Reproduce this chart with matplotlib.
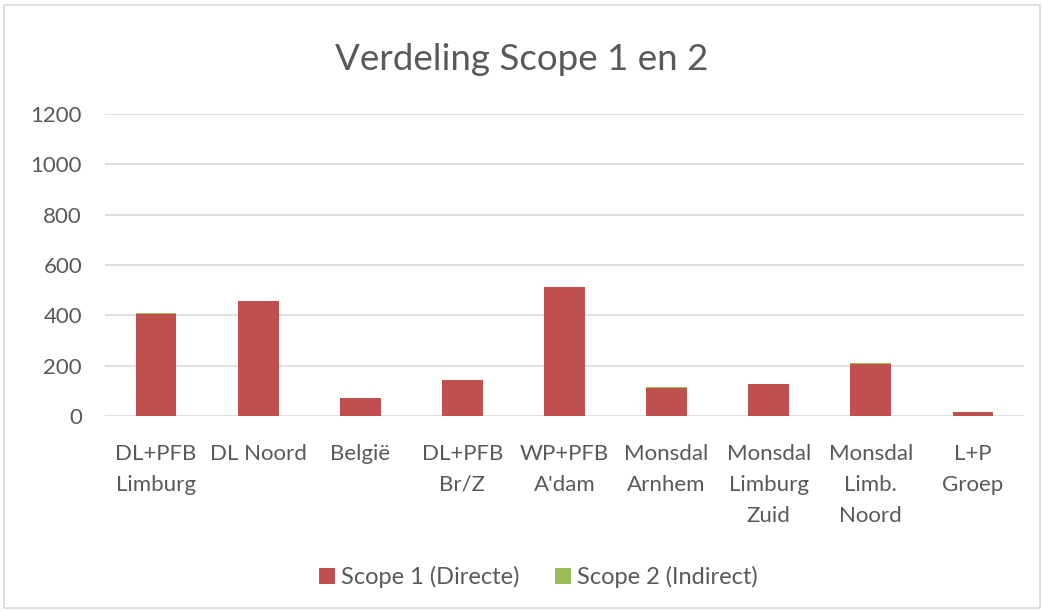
import matplotlib
matplotlib.use("Agg")
import matplotlib.pyplot as plt
from matplotlib.patches import Rectangle

categories = ["DL+PFB\nLimburg", "DL Noord", "België", "DL+PFB\nBr/Z", "WP+PFB\nA'dam",
              "Monsdal\nArnhem", "Monsdal\nLimburg\nZuid", "Monsdal\nLimb.\nNoord", "L+P\nGroep"]
scope1 = [407, 456, 72, 143, 513, 113, 127, 207, 14]
scope2 = [0.5, 0.5, 0.3, 0.5, 0.5, 2.5, 0.8, 2.5, 0.2]
yticks = [0, 200, 400, 600, 800, 1000, 1200]

RED = "#C0504D"
GREEN = "#9BBB59"
TXT = "#595959"

plt.rcParams['font.family'] = ['Lato', 'DejaVu Sans']

fig = plt.figure(figsize=(10.43, 6.11), dpi=100)
# outer border of chart area
fig.patches.append(Rectangle((4/1043, 3/611), 1036/1043, 603/611, transform=fig.transFigure,
                             fill=False, edgecolor="#D9D9D9", linewidth=1.2))

ax = fig.add_axes([105/1043, 1 - 416/611, 919/1043, (416 - 114)/611])
x = list(range(len(categories)))
ax.bar(x, scope1, width=0.4, color=RED, label="Scope 1 (Directe)", zorder=3)
ax.bar(x, scope2, width=0.4, bottom=scope1, color=GREEN, label="Scope 2 (Indirect)", zorder=3)

ax.set_xlim(-0.5, len(categories) - 0.5)
ax.set_ylim(0, 1200)
ax.set_yticks(yticks)
ax.set_yticklabels([str(v) for v in yticks], fontsize=16, color=TXT)
ax.set_xticks(x)
ax.set_xticklabels(categories, fontsize=16, color=TXT, linespacing=1.68, va="top")
ax.tick_params(axis="both", length=0)
ax.tick_params(axis="y", pad=16.5)
ax.tick_params(axis="x", pad=20)
ax.grid(axis="y", color="#D9D9D9", linewidth=1.2, zorder=0)
for s in ax.spines.values():
    s.set_visible(False)

fig.text(0.5, 1 - 59/611, "Verdeling Scope 1 en 2", ha="center", va="center",
         fontsize=26.5, color=TXT)

leg = fig.legend(loc="center", bbox_to_anchor=(538/1043, 1 - 577/611), ncol=2, frameon=False,
                 fontsize=17, handlelength=0.68, handleheight=0.68, handletextpad=0.25,
                 columnspacing=1.5)
for t in leg.get_texts():
    t.set_color(TXT)

fig.savefig("out.png", dpi=100, facecolor="white")
